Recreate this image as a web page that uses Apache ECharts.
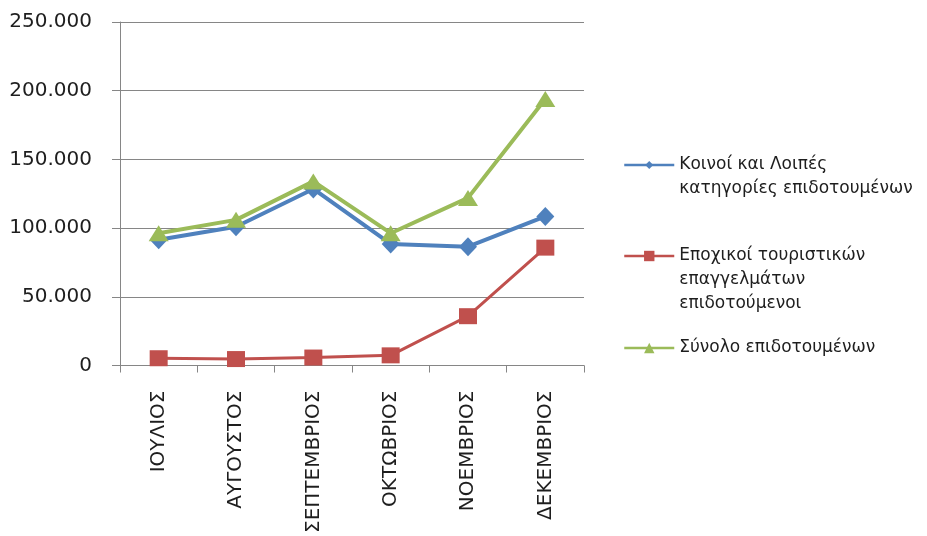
<!DOCTYPE html>
<html>
<head>
<meta charset="utf-8">
<script src="https://cdn.jsdelivr.net/npm/echarts@6/dist/echarts.min.js"></script>
<style>
html,body{margin:0;padding:0;background:#fff;}
#chart{width:927px;height:536px;}
</style>
</head>
<body>
<div id="chart"></div>
<script>
const categories = ['ΙΟΥΛΙΟΣ', 'ΑΥΓΟΥΣΤΟΣ', 'ΣΕΠΤΕΜΒΡΙΟΣ', 'ΟΚΤΩΒΡΙΟΣ', 'ΝΟΕΜΒΡΙΟΣ', 'ΔΕΚΕΜΒΡΙΟΣ'];
const commonValues = [91500, 101000, 128500, 88500, 86500, 108500];
const seasonalValues = [5300, 4700, 5800, 7400, 35900, 85800];
const totalValues = [96300, 106000, 134000, 96300, 122000, 194000];
const seriesNames = [
  'Κοινοί και Λοιπές\nκατηγορίες επιδοτουμένων',
  'Εποχικοί τουριστικών\nεπαγγελμάτων\nεπιδοτούμενοι',
  'Σύνολο επιδοτουμένων'
];
const yTicks = [0, 50000, 100000, 150000, 200000, 250000];

const FONT = 'DejaVu Sans';
const TEXT = '#1e1e1e';
const AXIS = '#868686';
const colors = ['#4F81BD', '#C0504D', '#9BBB59'];

function fmt(v) {
  if (v === 0) return '0';
  return String(v).replace(/\B(?=(\d{3})+(?!\d))/g, '.');
}

// Put the legend icon level with the first line of a multi-line name:
// blank lines above it keep the first line at the vertical centre.
function legendFor(i, top, itemH) {
  return {
    show: true,
    orient: 'vertical',
    left: 623,
    top: top,
    padding: 0,
    itemWidth: 50,
    itemHeight: itemH,
    data: [seriesNames[i]],
    selectedMode: false,
    lineStyle: { width: 2.5 },
    formatter: function (name) {
      const n = name.split('\n').length;
      return ' \n'.repeat(n - 1) + name;
    },
    textStyle: {
      fontFamily: FONT,
      fontSize: 17,
      color: TEXT,
      lineHeight: 24
    }
  };
}

const chart = echarts.init(document.getElementById('chart'), null, { renderer: 'canvas' });
chart.setOption({
  animation: false,
  backgroundColor: '#ffffff',
  color: colors,
  grid: { left: 120, top: 22, right: 343, bottom: 168, containLabel: false },
  legend: [
    legendFor(0, 129, 10),
    legendFor(1, 196, 13),
    legendFor(2, 336, 13)
  ],
  xAxis: {
    type: 'category',
    data: categories,
    boundaryGap: true,
    axisLine: { show: true, lineStyle: { color: AXIS, width: 1 } },
    axisTick: { show: true, inside: false, length: 7, alignWithLabel: false, lineStyle: { color: AXIS } },
    axisLabel: { rotate: 90, margin: 25, fontFamily: FONT, fontSize: 20, color: TEXT, interval: 0 },
    splitLine: { show: false }
  },
  yAxis: {
    type: 'value',
    min: yTicks[0],
    max: yTicks[yTicks.length - 1],
    interval: yTicks[1] - yTicks[0],
    axisLine: { show: true, lineStyle: { color: AXIS, width: 1 } },
    axisTick: { show: true, inside: false, length: 8, lineStyle: { color: AXIS } },
    axisLabel: { margin: 28, fontFamily: FONT, fontSize: 20, color: TEXT, formatter: fmt },
    splitLine: { show: true, lineStyle: { color: AXIS, width: 1 } }
  },
  series: [
    {
      name: seriesNames[0],
      type: 'line',
      data: commonValues,
      symbol: 'diamond',
      symbolSize: [18, 19],
      lineStyle: { width: 4, color: colors[0] },
      itemStyle: { color: colors[0] },
      z: 2
    },
    {
      name: seriesNames[1],
      type: 'line',
      data: seasonalValues,
      symbol: 'rect',
      symbolSize: [18, 16],
      lineStyle: { width: 3, color: colors[1] },
      itemStyle: { color: colors[1] },
      z: 3
    },
    {
      name: seriesNames[2],
      type: 'line',
      data: totalValues,
      symbol: 'triangle',
      symbolSize: [20, 16],
      lineStyle: { width: 4, color: colors[2] },
      itemStyle: { color: colors[2] },
      z: 4
    }
  ]
});
</script>
</body>
</html>
